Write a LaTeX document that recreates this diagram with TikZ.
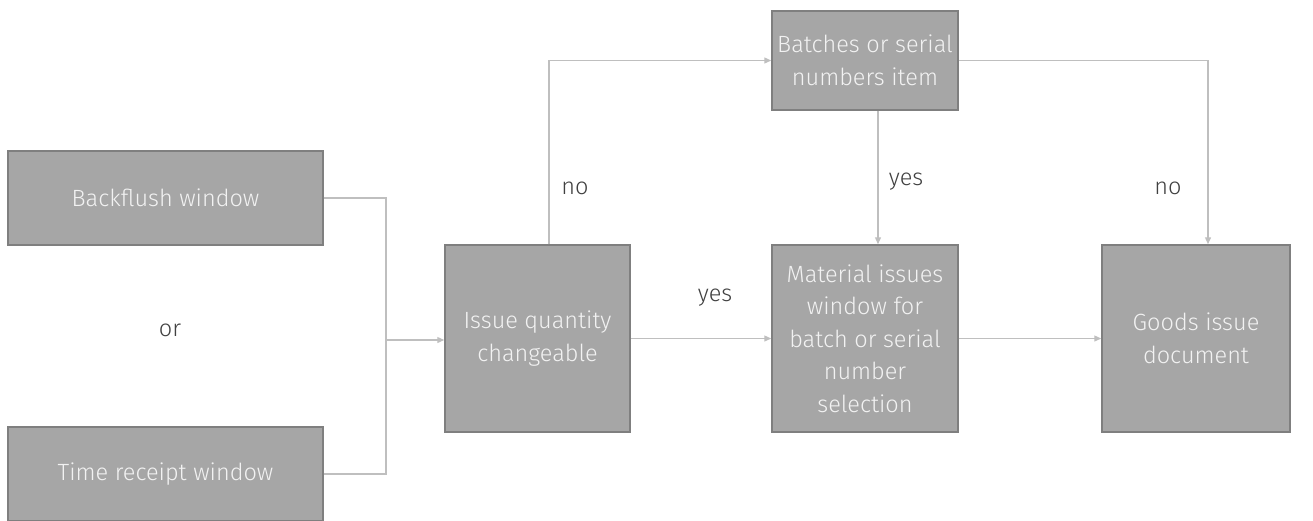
\documentclass[tikz,border=0pt]{standalone}
\usepackage{fontspec}
\setmainfont{Fira Sans}
\newfontfamily\lightsans{Fira Sans Light}
\usetikzlibrary{arrows.meta}
\definecolor{boxfill}{HTML}{A6A6A6}
\definecolor{boxline}{HTML}{7F7F7F}
\definecolor{wire}{HTML}{BFBFBF}
\definecolor{labeltext}{HTML}{404040}
\begin{document}
\begin{tikzpicture}[x=1pt,y=-1pt,
  stepbox/.style={draw=boxline, line width=1.5pt, fill=boxfill, text=white!95!black,
    align=center, font=\lightsans\fontsize{23.5}{32.5}\selectfont, inner sep=0pt},
  wirearrow/.style={draw=wire, line width=1.3pt, -{Triangle[length=7pt,width=6pt]}},
  wireline/.style={draw=wire, line width=1.3pt},
  lbl/.style={text=labeltext, font=\lightsans\fontsize{23.5}{28}\selectfont}]
\useasboundingbox (0,0) rectangle (1313,520);
\begin{scope}
\clip (0,0) rectangle (1313,520);
\node[stepbox, minimum width=315pt, minimum height=94pt] (back) at (165.5,198) {Backflush window};
\node[stepbox, minimum width=315pt, minimum height=94pt] (time) at (165.5,474) {Time receipt window};
\end{scope}
\node[lbl] (or) at (170,330) {or};
\node[stepbox, minimum width=185pt, minimum height=187pt] (qty) at (537.5,338.5) {Issue quantity\\changeable};
\node[stepbox, minimum width=186pt, minimum height=187pt] (mat) at (865,338.5) {Material issues\\window for\\batch or serial\\number\\selection};
\node[stepbox, minimum width=188pt, minimum height=187pt] (goods) at (1196,338.5) {Goods issue\\document};
\node[stepbox, minimum width=186pt, minimum height=99pt] (batch) at (865,60.5) {Batches or serial\\numbers item};
\coordinate (join) at (386,340);
\draw[wireline] (back.east) -| (join);
\draw[wireline] (time.east) -| (join);
\draw[wirearrow] (join) -- (qty.west |- join);
\draw[wirearrow] (qty.north -| 549,0) |- (batch.west);
\draw[wirearrow] (qty.east) -- (mat.west);
\draw[wirearrow] (batch.south -| 878,0) -- (mat.north -| 878,0);
\draw[wirearrow] (batch.east) -| (goods.north -| 1208,0);
\draw[wirearrow] (mat.east) -- (goods.west);
\node[lbl] (no1) at (575,188) {no};
\node[lbl] (yes1) at (715,298) {yes};
\node[lbl] (yes2) at (906,182) {yes};
\node[lbl] (no2) at (1168,188) {no};
\end{tikzpicture}
\end{document}
